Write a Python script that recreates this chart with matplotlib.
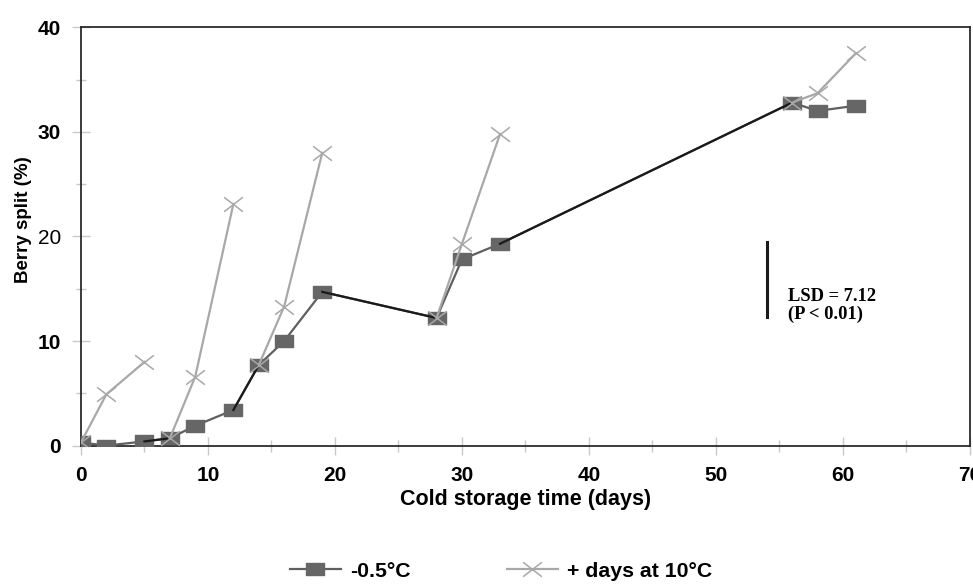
import matplotlib
matplotlib.use("Agg")
import matplotlib.pyplot as plt
from matplotlib.path import Path

# -0.5 C cold storage
days_cold = [0, 2, 5, 7, 9, 12, 14, 16, 19, 28, 30, 33, 56, 58, 61]
split_cold = [0.3, 0.0, 0.4, 0.7, 1.9, 3.4, 7.7, 10.0, 14.7, 12.2, 17.8, 19.3, 32.8, 32.0, 32.5]
# index where each removal group starts (link segments drawn black)
group_starts = [3, 6, 9, 12]

# + days at 10 C (one run per removal)
shelf_days = [[0, 2, 5], [7, 9, 12], [14, 16, 19], [28, 30, 33], [56, 58, 61]]
shelf_split = [[0.3, 4.9, 8.0], [0.7, 6.6, 23.1], [7.7, 13.3, 28.0],
               [12.2, 19.3, 29.8], [32.8, 33.7, 37.5]]

lsd = 7.12
lsd_x = 54
lsd_base = 12.3

plt.rcParams['font.family'] = ['Liberation Sans', 'DejaVu Sans']

# wide flat markers like the original
sq = Path([(-1.5, -1.0), (1.5, -1.0), (1.5, 1.0), (-1.5, 1.0), (-1.5, -1.0)],
          [Path.MOVETO, Path.LINETO, Path.LINETO, Path.LINETO, Path.CLOSEPOLY])
cross = Path([(-1.3, -1.0), (1.3, 1.0), (-1.3, 1.0), (1.3, -1.0)],
             [Path.MOVETO, Path.LINETO, Path.MOVETO, Path.LINETO])

fig = plt.figure(figsize=(9.73, 5.84), dpi=100)
ax = fig.add_axes([0.0832, 0.237, 0.9137, 0.7163])

ax.plot(days_cold, split_cold, color='#5f5f5f', lw=1.6, marker=sq, ms=13,
        mfc='#666666', mec='#666666', zorder=3, label='-0.5\u00b0C')
for i in group_starts:
    ax.plot(days_cold[i - 1:i + 1], split_cold[i - 1:i + 1], color='#1a1a1a',
            lw=1.6, zorder=4)

for k, (d, s) in enumerate(zip(shelf_days, shelf_split)):
    ax.plot(d, s, color='#a8a8a8', lw=1.6, marker=cross, ms=13.5, mew=1.1,
            mec='#a8a8a8', zorder=5, label='+ days at 10\u00b0C' if k == 0 else None)

ax.plot([lsd_x, lsd_x], [lsd_base, lsd_base + lsd], color='#1a1a1a', lw=2.2, zorder=4)
ax.text(lsd_x + 1.7, lsd_base + 1.1, 'LSD = 7.12\n(P < 0.01)', family='Liberation Serif',
        fontweight='bold', fontsize=13.3, ha='left', va='center', linespacing=1.0)

ax.set_xlim(0, 70)
ax.set_ylim(0, 40)
ax.set_xticks(range(0, 71, 10))
ax.set_xticks(range(5, 70, 10), minor=True)
ax.set_yticks(range(0, 41, 10))
ax.set_yticks(range(5, 40, 10), minor=True)

for sp in ax.spines.values():
    sp.set_color('#2b2b2b')
    sp.set_linewidth(1.3)

ax.tick_params(axis='both', which='both', direction='inout', color='#c8c8c8', width=1.0)
ax.tick_params(axis='x', which='major', length=13, pad=8, labelsize=15)
ax.tick_params(axis='x', which='minor', length=9)
ax.tick_params(axis='y', which='major', length=13.5, pad=7.5, labelsize=15)
ax.tick_params(axis='y', which='minor', length=7)
for lab in ax.get_xticklabels() + ax.get_yticklabels():
    lab.set_fontweight('bold')
ax.get_yticklabels()[2].set_fontweight('normal')

ax.set_xlabel('Cold storage time (days)', fontsize=15.5, fontweight='bold', labelpad=3)
ax.set_ylabel('Berry split (%)', fontsize=13.5, fontweight='bold')
ax.yaxis.set_label_coords(-0.055, 0.539)

fig.legend(loc='center', bbox_to_anchor=(0.515, 0.022), ncol=2, frameon=False,
           prop={'weight': 'bold', 'size': 15.3}, handlelength=2.4,
           handletextpad=0.45, columnspacing=4.5, borderpad=0)

fig.savefig('out.png', dpi=100)
